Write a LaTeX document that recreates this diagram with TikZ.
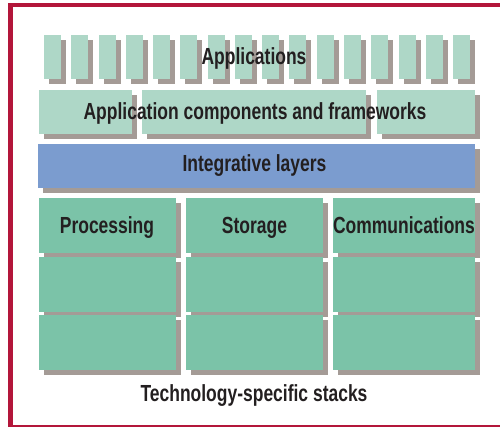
\documentclass[tikz,border=0pt]{standalone}
\usepackage{fontspec}
\newfontfamily\figfont{Liberation Sans}[FakeStretch=0.75]
\usepackage{xcolor}
\definecolor{cFrame}{HTML}{B3163A}
\definecolor{cApp}{HTML}{AED7C7}
\definecolor{cStack}{HTML}{7BC3A8}
\definecolor{cLayer}{HTML}{7B9CCF}
\definecolor{cShadow}{HTML}{A49B96}
\definecolor{cText}{HTML}{231F20}
\usepackage{tikz}
\usetikzlibrary{shadows}
\tikzset{
  node-flat/.style={inner sep=0pt,outer sep=0pt,
    drop shadow={shadow xshift=5pt,shadow yshift=-5pt,fill=cShadow,opacity=1}},
  node-app/.style={node-flat,fill=cApp,minimum width=17pt,minimum height=44pt},
  node-comp/.style={node-flat,fill=cApp,minimum height=44pt},
  node-layer/.style={node-flat,fill=cLayer,minimum height=44pt},
  node-stack/.style={node-flat,fill=cStack,minimum height=55pt},
  node-label/.style={anchor=base,inner sep=0pt,text=cText,
    font=\figfont\bfseries\fontsize{23.3}{26}\selectfont},
  frame-line/.style={draw=cFrame,line cap=rect},
}
\begin{document}
\begin{tikzpicture}[x=1pt,y=-1pt]
  \useasboundingbox (0,0) rectangle (500,427);
  % frame
  \draw[frame-line,line width=4.5pt] (500,5) -- (10.5,5) -- (10.5,427);
  \draw[frame-line,line width=1.5pt] (10.5,426) -- (500,426);
  % applications
  \foreach \i in {0,...,15} {
    \node[node-app] (app\i) at ({52.5+\i*27.27},57) {};
  }
  \node[node-label] (appText) at (254,65) {Applications};
  % components and frameworks
  \node[node-comp,minimum width=93pt] (comp1) at (85.5,112) {};
  \node[node-comp,minimum width=224pt] (comp2) at (254,112) {};
  \node[node-comp,minimum width=98pt] (comp3) at (426,112) {};
  \node[node-label] (compText) at (255,119.3) {Application components and frameworks};
  % integrative layers
  \node[node-layer,minimum width=437pt] (layer) at (256.5,166) {};
  \node[node-label] (layerText) at (254.5,171.7) {Integrative layers};
  % technology-specific stacks
  \foreach \col/\x/\w in {proc/107.5/137, stor/254.5/137, comm/404/142} {
    \foreach \row/\y in {1/225.5, 2/284.5, 3/342.5} {
      \node[node-stack,minimum width=\w pt] (\col\row) at (\x,\y) {};
    }
  }
  \node[node-label] (procText) at (107,234) {Processing};
  \node[node-label] (storText) at (254.5,234) {Storage};
  \node[node-label] (commText) at (404,234) {Communications};
  \node[node-label] (stackText) at (254,401) {Technology-specific stacks};
\end{tikzpicture}
\end{document}
